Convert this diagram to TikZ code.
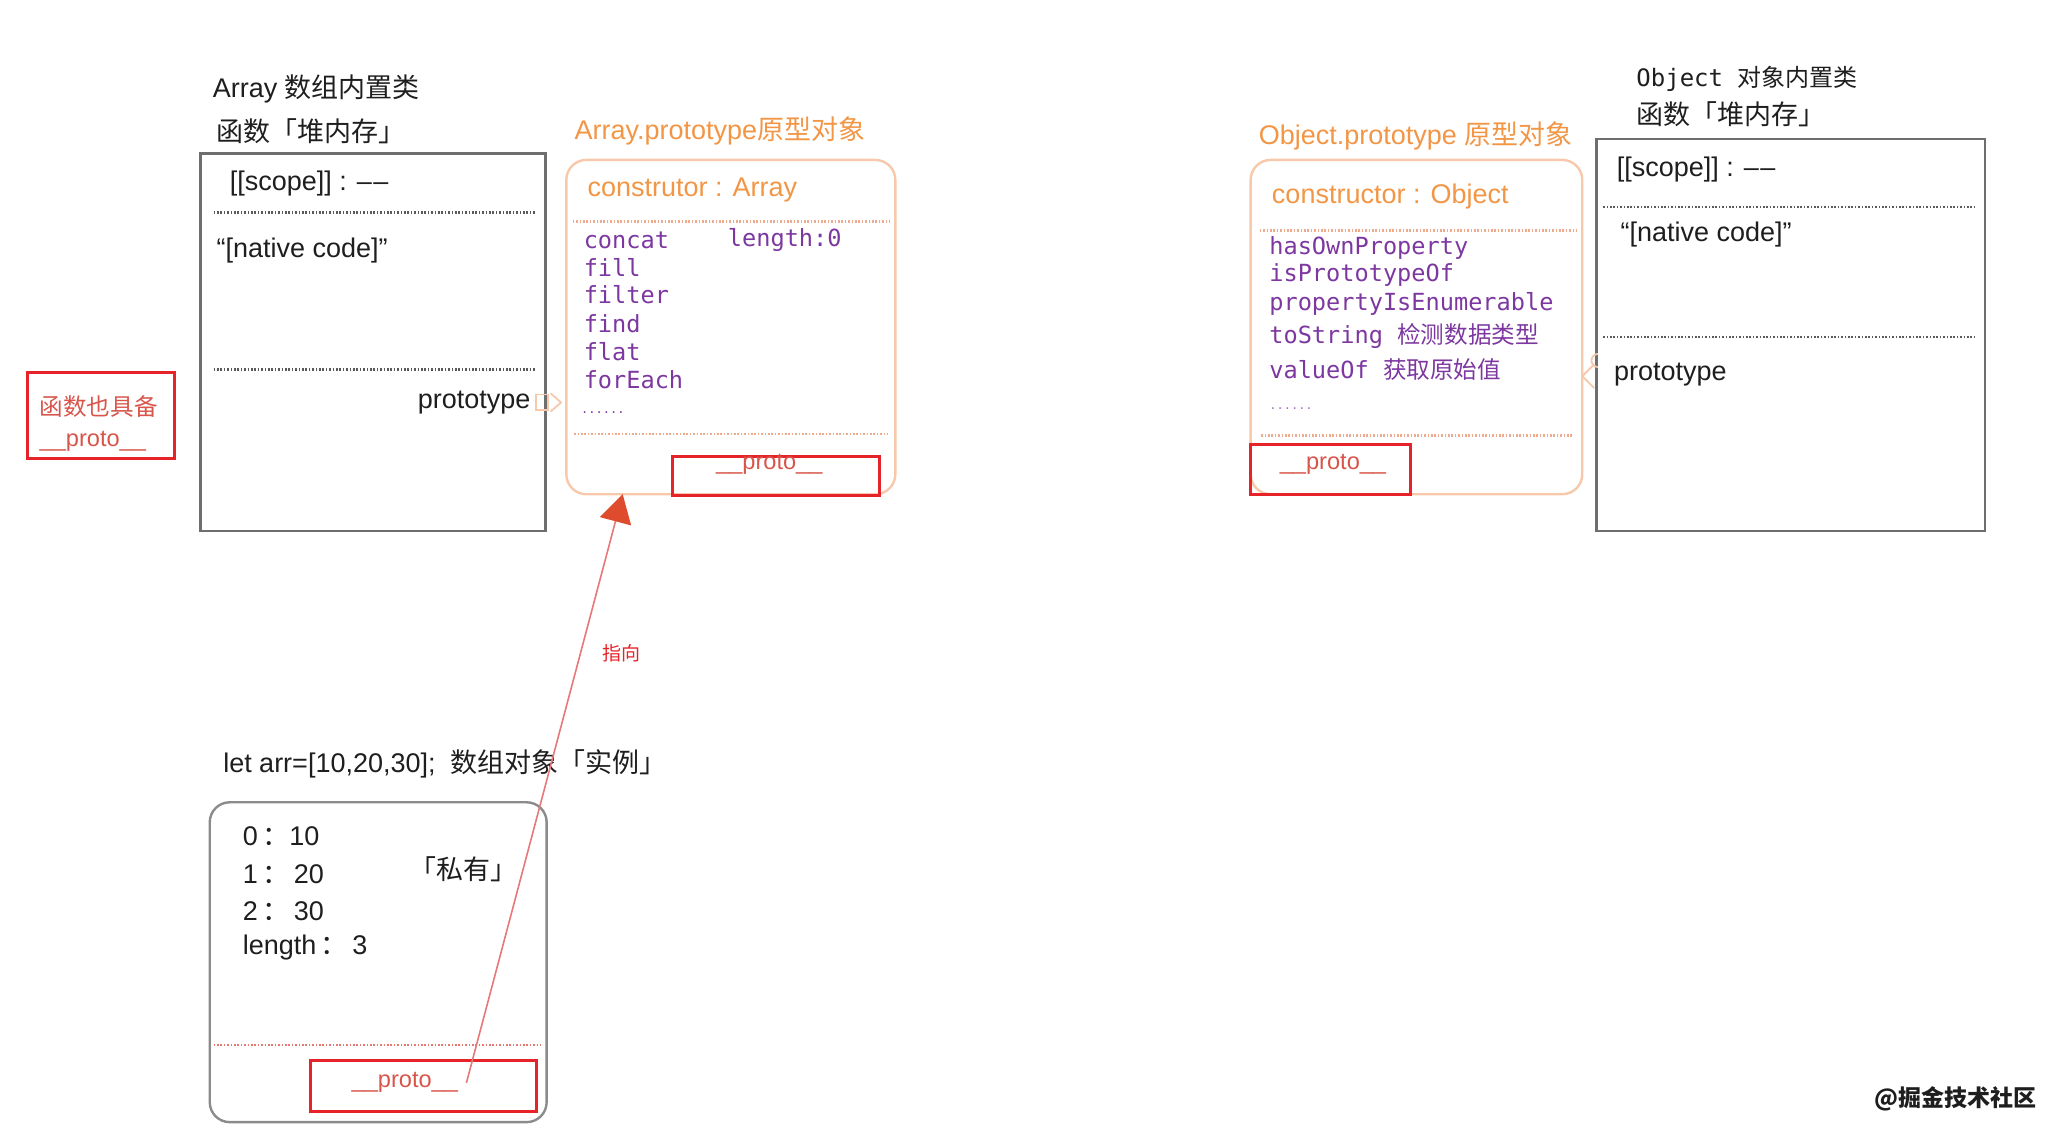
\documentclass[tikz,border=0pt]{standalone}
\usepackage{fontspec}
\setmainfont{Liberation Sans}
\newfontfamily\cjk{Noto Sans CJK SC}
\newfontfamily\monof{DejaVu Sans Mono}
\usetikzlibrary{fit,arrows.meta}
\definecolor{txtblack}{RGB}{30,30,30}
\definecolor{orangeT}{RGB}{242,150,70}
\definecolor{peach}{RGB}{248,200,170}
\definecolor{purpleT}{RGB}{125,55,160}
\definecolor{protoT}{RGB}{215,85,75}
\definecolor{redB}{RGB}{230,35,40}
\definecolor{boxgray}{RGB}{110,110,110}
\definecolor{dotgray}{RGB}{90,90,90}
\definecolor{odots}{RGB}{240,170,140}
\definecolor{rdots}{RGB}{235,120,110}
\definecolor{lineR}{RGB}{232,120,120}
\definecolor{headR}{RGB}{222,75,45}
\newcommand{\zh}[1]{{\cjk #1}}
\begin{document}
\begin{tikzpicture}[x=0.6555pt,y=-0.6555pt,
  txt/.style={anchor=west,inner sep=0pt,text=txtblack,font=\fontsize{13.5}{16}\selectfont},
  otxt/.style={txt,text=orangeT},
  ptxt/.style={anchor=west,inner sep=0pt,text=purpleT,font=\monof\fontsize{11.8}{14}\selectfont},
  rtxt/.style={anchor=west,inner sep=0pt,text=protoT,font=\fontsize{11.8}{14}\selectfont},
  graybox/.style={draw=boxgray,line width=1.2pt,inner sep=0pt},
  orangebox/.style={draw=peach,line width=1.2pt,rounded corners=10pt,inner sep=0pt},
  roundgray/.style={draw=boxgray!80,line width=1.2pt,rounded corners=10pt,inner sep=0pt},
  redbox/.style={draw=redB,line width=1.6pt,inner sep=0pt},
  gdots/.style={draw=dotgray,line width=1.3pt,dash pattern=on 0.8pt off 0.9pt},
  odotl/.style={draw=odots,line width=1.3pt,dash pattern=on 0.8pt off 0.9pt},
  rdotl/.style={draw=rdots,line width=1.3pt,dash pattern=on 0.8pt off 0.9pt},
  marker/.style={draw=peach,line width=0.9pt},
  pointer/.style={draw=lineR,line width=0.8pt,-{Triangle[length=14pt,width=16pt,fill=headR,color=headR]}}
]
\useasboundingbox (0,0) rectangle (1560,858);

% ---------- Array function ----------
\node[txt] (arrT1) at (162,68) {Array \zh{数组内置类}};
\node[txt] (arrT2) at (165,100) {\zh{函数「堆内存」}};
\node[graybox,fit={(153,117) (416,405)}] (arrFn) {};
\node[txt] (arrScope) at (175,140) {[[scope]] : –\kern0.8pt–};
\draw[gdots] (163,162) -- (408,162);
\node[txt] (arrNative) at (165,191) {“[native code]”};
\draw[gdots] (163,282) -- (408,282);
\node[txt,anchor=east] (arrProto) at (405,307) {prototype};
\draw[marker] (409,301) rectangle (418,313);
\draw[marker] (420,300) -- (428,307) -- (420,314);

% ---------- left red note ----------
\node[redbox,fit={(21,284) (133,350)}] (noteBox) {};
\node[rtxt] (noteT1) at (30,310) {\zh{函数也具备}};
\node[rtxt] (noteT2) at (30,337) {\_\_proto\_\_};

% ---------- Array.prototype ----------
\node[otxt] (apT) at (438,100) {Array.prototype\zh{原型对象}};
\node[orangebox,fit={(432,122) (683,377)}] (apBox) {};
\node[otxt] (apCons) at (448,145) {construtor : Array};
\draw[odotl] (437,169) -- (679,169);
\node[ptxt] (m1) at (445,183) {concat};
\node[ptxt] (m0) at (555,183) {length:0};
\node[ptxt] (m2) at (445,204) {fill};
\node[ptxt] (m3) at (445,225) {filter};
\node[ptxt] (m4) at (445,247) {find};
\node[ptxt] (m5) at (445,268) {flat};
\node[ptxt] (m6) at (445,290) {forEach};
\node[ptxt,font=\monof\fontsize{6}{7}\selectfont] (m7) at (443,315) {......};
\draw[odotl] (438,331) -- (677,331);
\node[redbox,fit={(513,348) (671,378)}] (apProtoBox) {};
\node[rtxt] (apProto) at (546,354) {\_\_proto\_\_};

% ---------- instance ----------
\node[txt] (instT) at (170,583) {let arr=[10,20,30];~~\zh{数组对象「实例」}};
\node[roundgray,fit={(160,612) (417,856)}] (instBox) {};
\node[txt] (i0) at (185,638) {0\,\zh{：}10};
\node[txt] (i1) at (185,667) {1\,\zh{：}\,20};
\node[txt] (i2) at (185,695) {2\,\zh{：}\,30};
\node[txt] (i3) at (185,723) {length\,\zh{：}\,3};
\node[txt] (priv) at (312,663) {\zh{「私有」}};
\draw[rdotl] (163,797) -- (413,797);
\node[redbox,fit={(237,809) (409,848)}] (instProtoBox) {};
\node[rtxt] (instProto) at (268,826) {\_\_proto\_\_};

% ---------- pointer ----------
\coordinate (tip) at (475,377);
\draw[pointer] (instProto.east) ++(4pt,0) -- (tip);
\node[anchor=west,inner sep=0pt,text=redB,font=\cjk\fontsize{9.5}{11}\selectfont] (pointLbl) at (459,498) {指向};

% ---------- Object.prototype ----------
\node[otxt] (opT) at (960,104) {Object.prototype \zh{原型对象}};
\node[orangebox,fit={(954,122) (1207,377)}] (opBox) {};
\node[otxt] (opCons) at (970,150) {constructor : Object};
\draw[odotl] (961,176) -- (1203,176);
\node[ptxt] (o1) at (968,189) {hasOwnProperty};
\node[ptxt] (o2) at (968,210) {isPrototypeOf};
\node[ptxt] (o3) at (968,232) {propertyIsEnumerable};
\node[ptxt] (o4) at (968,256) {toString \zh{检测数据类型}};
\node[ptxt] (o5) at (968,282) {valueOf \zh{获取原始值}};
\node[ptxt,font=\monof\fontsize{6}{7}\selectfont,text=purpleT!70] (o6) at (968,312) {......};
\draw[odotl] (962,332) -- (1200,332);
\node[redbox,fit={(954,339) (1076,377)}] (opProtoBox) {};
\node[rtxt] (opProto) at (976,354) {\_\_proto\_\_};

% ---------- Object function ----------
\node[txt,font=\monof\fontsize{12}{14}\selectfont] (objT1) at (1248,60) {Object \zh{对象内置类}};
\node[txt] (objT2) at (1248,87) {\zh{函数「堆内存」}};
\node[graybox,fit={(1218,106) (1514,405)}] (objFn) {};
\node[txt] (objScope) at (1233,129) {[[scope]] : –\kern0.8pt–};
\draw[gdots] (1223,158) -- (1508,158);
\node[txt] (objNative) at (1236,179) {“[native code]”};
\draw[gdots] (1223,257) -- (1508,257);
\node[txt] (objProto) at (1231,286) {prototype};
\draw[marker] (1216,278) -- (1207,287) -- (1216,296);
\draw[marker] (1219,280) arc (90:270:5);

% ---------- watermark ----------
\node[anchor=east,inner sep=0pt,text=txtblack,font=\cjk\bfseries\fontsize{11.5}{13}\selectfont] (wm) at (1554,838) {@掘金技术社区};
\end{tikzpicture}
\end{document}
